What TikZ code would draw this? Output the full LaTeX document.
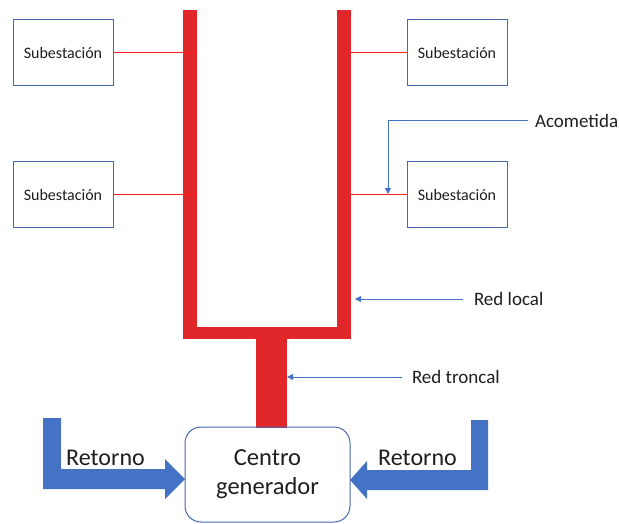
\documentclass[tikz,border=0pt]{standalone}
\usepackage{fontspec}
\setmainfont{Carlito}
\usetikzlibrary{arrows.meta}
\definecolor{barred}{HTML}{E2272A}
\definecolor{feedred}{HTML}{FF1F1F}
\definecolor{offblue}{HTML}{4472C4}
\definecolor{boxblue}{HTML}{4468AE}
\definecolor{txt}{HTML}{1E1E1E}
\tikzset{
  stationbox/.style={draw=boxblue, line width=1pt, fill=white, minimum width=100pt, minimum height=66pt, inner sep=0pt, outer sep=0pt, font=\fontsize{16}{19}\selectfont, text=txt},
  barpart/.style={fill=barred, inner sep=0pt, outer sep=0pt, draw=none},
  feeder/.style={draw=feedred, line width=1pt},
  pointer/.style={draw=offblue, line width=1pt, -{Triangle[length=6pt,width=6pt]}},
  lbl/.style={font=\fontsize{19}{22}\selectfont, text=txt, anchor=west, inner ysep=0pt, outer sep=0pt},
  gencenter/.style={draw=boxblue, line width=1pt, rounded corners=16pt, minimum width=165pt, minimum height=95pt, align=center, font=\fontsize{24.5}{29}\selectfont, text=txt, inner sep=0pt, outer sep=0pt},
  retarrow/.style={fill=offblue},
  rettext/.style={font=\fontsize{24}{28}\selectfont, text=txt, anchor=base, inner sep=0pt}
}
\begin{document}
\begin{tikzpicture}[x=1pt,y=-1pt]
\useasboundingbox (0,0) rectangle (619,524);
% red network
\node[barpart, minimum width=14pt, minimum height=329pt] (lbar) at (190,174.5) {};
\node[barpart, minimum width=14pt, minimum height=329pt] (rbar) at (344,174.5) {};
\node[barpart, minimum width=168pt, minimum height=12pt] (bbar) at (267,333) {};
\node[barpart, minimum width=31pt, minimum height=89pt] (trunk) at (271.5,383) {};
% substations
\node[stationbox] (s1) at (63,53) {Subestación};
\node[stationbox] (s2) at (63,195) {Subestación};
\node[stationbox] (s3) at (457,53) {Subestación};
\node[stationbox] (s4) at (457,195) {Subestación};
\draw[feeder] (s1.west -| lbar.east) -- (s1.east);
\draw[feeder] (s2.west -| lbar.east) -- (s2.east);
\draw[feeder] (s3.west -| rbar.east) -- (s3.west);
\draw[feeder] (s4.west -| rbar.east) -- (s4.west);
% generator
\node[gencenter] (gen) at (267.5,474.5) {Centro\\generador};
% labels
\node[lbl, inner xsep=7pt] (acom) at (528,121) {Acometida};
\coordinate (acomtip) at (388,194);
\draw[pointer] (acom.west) -| (acomtip);
\node[lbl, inner xsep=11pt] (rlocal) at (463,299) {Red local};
\draw[pointer, shorten >=4pt] (rlocal.west) -- (rlocal.west -| rbar.east);
\node[lbl, inner xsep=10pt] (rtron) at (402,377) {Red troncal};
\draw[pointer] (rtron.west) -- (rtron.west -| trunk.east);
% return arrows
\fill[retarrow] (43,418) -- (61,418) -- (61,469) -- (165,469) -- (165,459) -- (gen.west |- 0,479) -- (165,499) -- (165,489) -- (43,489) -- cycle;
\fill[retarrow] (488,420) -- (471,420) -- (471,470) -- (367,470) -- (367,461) -- (gen.east |- 0,480) -- (367,499) -- (367,490) -- (488,490) -- cycle;
\node[rettext] (retl) at (105.5,465) {Retorno};
\node[rettext] (retr) at (417.5,465) {Retorno};
\end{tikzpicture}
\end{document}
